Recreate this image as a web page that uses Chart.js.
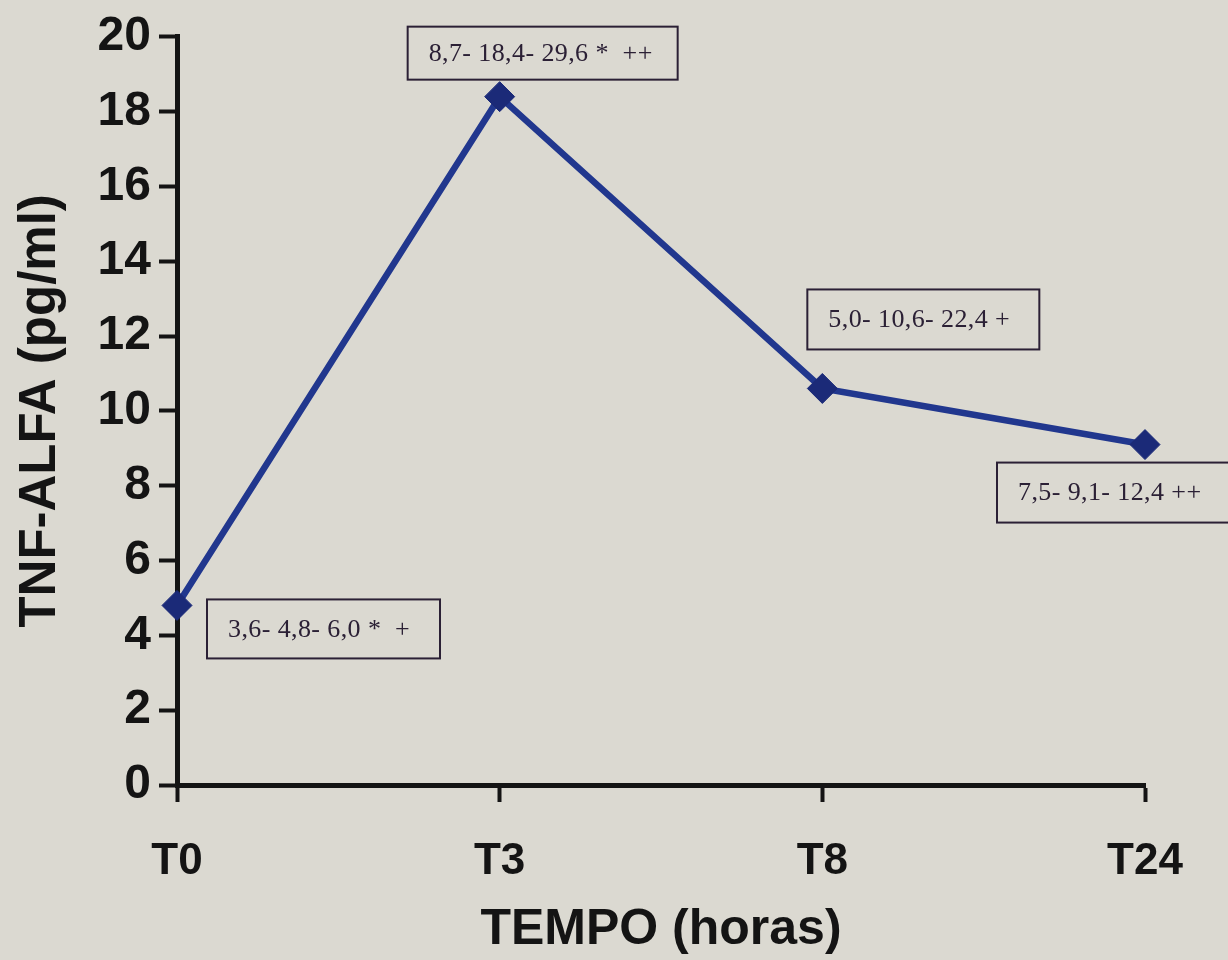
<!DOCTYPE html>
<html lang="pt">
<head>
<meta charset="UTF-8">
<title>TNF-ALFA</title>
<script src="https://cdn.jsdelivr.net/npm/chart.js"></script>
<style>
    html, body {
        margin: 0;
        padding: 0;
        background: #dbd9d1;
    }
    #wrap {
        width: 1228px;
        height: 960px;
    }
</style>
</head>
<body>
<div id="wrap"><canvas id="chart" width="1228" height="960"></canvas></div>
<script>
    // tempos de coleta
    const categories = ['T0', 'T3', 'T8', 'T24'];
    // mediana do TNF-alfa (pg/ml)
    const medians = [4.8, 18.4, 10.6, 9.1];
    // textos das caixas: p25 - mediana - p75 + significancia
    const boxLabels = ['3,6- 4,8- 6,0 *  +', '8,7- 18,4- 29,6 *  ++', '5,0- 10,6- 22,4 +', '7,5- 9,1- 12,4 ++'];
    // eixo y
    const yMin = 0, yMax = 20, yStep = 2;

    // posicao das caixas em relacao ao ponto (px)
    const boxLayout = [
        { dx: 30, dy: -6, w: 233, h: 59 },
        { dx: -92, dy: -70, w: 270, h: 53 },
        { dx: -15, dy: -99, w: 232, h: 60 },
        { dx: -148, dy: 18, w: 232, h: 60 }
    ];

    const ink = '#141414';
    const boxInk = '#2b2035';

    const boxPlugin = {
        id: 'boxes',
        afterDatasetsDraw(chart) {
            const { ctx, scales: { x, y } } = chart;
            ctx.save();
            ctx.font = '26px "Liberation Serif", "DejaVu Serif", serif';
            ctx.letterSpacing = '0.4px';
            ctx.textBaseline = 'middle';
            boxLabels.forEach((txt, i) => {
                const px = x.getPixelForValue(i);
                const py = y.getPixelForValue(medians[i]);
                const b = boxLayout[i];
                const bx = px + b.dx, by = py + b.dy;
                ctx.lineWidth = 2;
                ctx.strokeStyle = boxInk;
                ctx.strokeRect(bx, by, b.w, b.h);
                ctx.fillStyle = boxInk;
                ctx.fillText(txt, bx + 21, by + b.h / 2 + 1);
            });
            ctx.restore();
        }
    };

    const boldFont = (size) => ({ family: '"Liberation Sans", Arial, sans-serif', size: size, weight: 'bold' });

    new Chart(document.getElementById('chart').getContext('2d'), {
        type: 'line',
        data: {
            labels: categories,
            datasets: [{
                data: medians,
                borderColor: '#21378e',
                borderWidth: 6.5,
                pointStyle: 'rectRot',
                pointRadius: 15,
                pointBackgroundColor: '#1b2a78',
                pointBorderColor: '#1b2a78',
                pointBorderWidth: 1,
                tension: 0,
                clip: false
            }]
        },
        options: {
            responsive: false,
            animation: false,
            devicePixelRatio: 1,
            layout: { padding: { top: 33, right: 83, left: 0, bottom: 0 } },
            plugins: {
                legend: { display: false },
                tooltip: { enabled: false }
            },
            scales: {
                x: {
                    offset: false,
                    afterFit(scale) { scale.height = 175; },
                    grid: { drawOnChartArea: false, drawTicks: true, tickLength: 17, tickWidth: 4, tickColor: ink },
                    border: { display: true, width: 5, color: ink },
                    ticks: { color: ink, font: boldFont(44), padding: 33, maxRotation: 0 },
                    title: { display: true, text: 'TEMPO (horas)', color: ink, font: boldFont(50), padding: { top: 0, bottom: 0 } }
                },
                y: {
                    min: yMin,
                    max: yMax,
                    afterFit(scale) { scale.width = 177; },
                    grid: { drawOnChartArea: false, drawTicks: true, tickLength: 18, tickWidth: 4, tickColor: ink },
                    border: { display: true, width: 5, color: ink },
                    ticks: { stepSize: yStep, color: ink, font: boldFont(48), padding: 8 },
                    title: { display: true, text: 'TNF-ALFA (pg/ml)', color: ink, font: boldFont(51), padding: { top: 10, bottom: 0 } }
                }
            }
        },
        plugins: [boxPlugin]
    });
</script>
</body>
</html>
